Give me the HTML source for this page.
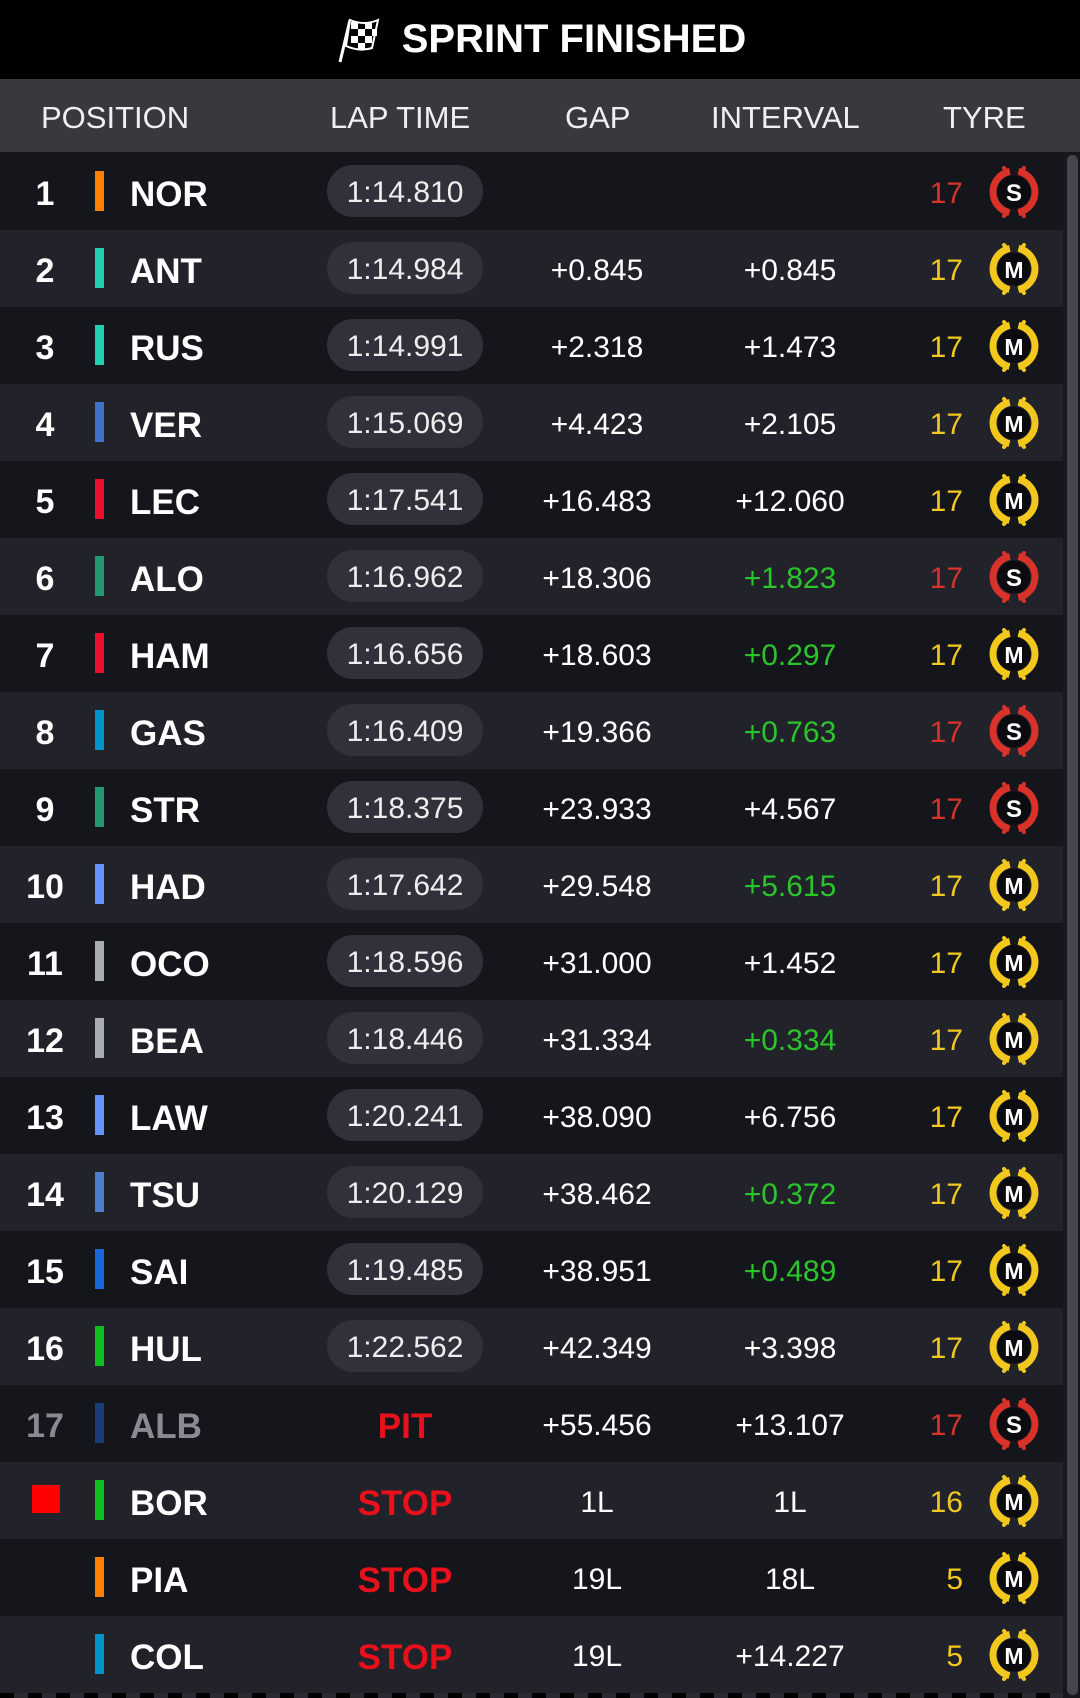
<!DOCTYPE html>
<html><head><meta charset="utf-8"><style>
*{margin:0;padding:0;box-sizing:border-box}
body{width:1080px;height:1698px;background:#17181e;overflow:hidden;font-family:"Liberation Sans",sans-serif;color:#fff;position:relative}
.top{position:absolute;left:0;top:0;width:1080px;height:79px;background:#000;display:flex;align-items:center;justify-content:center}
.top span{font-weight:bold;font-size:40px;margin-left:18px}
.hdr{position:absolute;left:0;top:79px;width:1080px;height:73px;background:#38393f;font-size:31px;color:#f0f0f0}
.hdr div{position:absolute;top:21px}
.row{position:absolute;left:0;width:1063px;height:77px}
.odd{background:#15161c}.even{background:#21222a}
.pos{position:absolute;left:0;width:90px;text-align:center;top:22px;font-weight:bold;font-size:34px}
.bar{position:absolute;left:95px;top:18px;width:9px;height:40px}
.code{position:absolute;left:130px;top:22px;font-weight:bold;font-size:35px}
.pill{position:absolute;left:327px;top:12px;width:156px;height:52px;border-radius:26px;background:#30313a;text-align:center;line-height:56px;font-size:30px;color:#eee}
.st{position:absolute;left:327px;width:156px;text-align:center;top:22px;font-weight:bold;font-size:35px;color:#e8101a}
.gap{position:absolute;left:517px;width:160px;text-align:center;top:24px;font-size:30px}
.int{position:absolute;left:710px;width:160px;text-align:center;top:24px;font-size:30px}
.g{color:#2bc52b}
.lap{position:absolute;right:100px;top:24px;font-size:30px}
.r{color:#d8322a}.y{color:#f2c81e}
svg.t{position:absolute;left:986px;top:11px}
.sb{position:absolute;left:1067px;top:155px;width:11px;height:1540px;background:#45464d;border-radius:5px}
.dash{position:absolute;left:0;top:1693px;width:1063px;height:5px;background:repeating-linear-gradient(90deg,#000 0 14px,#2a2b32 14px 28px)}
</style></head><body>
<div class="top"><svg width="50" height="48" viewBox="0 0 50 48"><path d="M6 46 L16 4" stroke="#fff" stroke-width="3"/><g fill="#fff"><path d="M16 4 Q30 10 44 4 L38 32 Q26 36 12 30 Z" fill="#000" stroke="#fff" stroke-width="2"/><rect x="17" y="6" width="7" height="7"/><rect x="31" y="6" width="7" height="7"/><rect x="24" y="13" width="7" height="7"/><rect x="38" y="13" width="5" height="7"/><rect x="17" y="20" width="7" height="7"/><rect x="31" y="20" width="7" height="7"/><rect x="24" y="27" width="7" height="6"/></g></svg><span>SPRINT FINISHED</span></div>
<div class="hdr"><div style="left:41px">POSITION</div><div style="left:330px">LAP TIME</div><div style="left:565px">GAP</div><div style="left:711px">INTERVAL</div><div style="left:943px">TYRE</div></div>
<div id="rows"></div>
<div class="sb"></div>
<div class="dash"></div>
<script>
const d=[
["1","#ff8000","NOR","1:14.810","","","17","S"],
["2","#1fd1b0","ANT","1:14.984","+0.845","+0.845","17","M"],
["3","#1fd1b0","RUS","1:14.991","+2.318","+1.473","17","M"],
["4","#3e72c8","VER","1:15.069","+4.423","+2.105","17","M"],
["5","#e8102d","LEC","1:17.541","+16.483","+12.060","17","M"],
["6","#229971","ALO","1:16.962","+18.306","g+1.823","17","S"],
["7","#e8102d","HAM","1:16.656","+18.603","g+0.297","17","M"],
["8","#0093cc","GAS","1:16.409","+19.366","g+0.763","17","S"],
["9","#229971","STR","1:18.375","+23.933","+4.567","17","S"],
["10","#6692ff","HAD","1:17.642","+29.548","g+5.615","17","M"],
["11","#a8abb0","OCO","1:18.596","+31.000","+1.452","17","M"],
["12","#a8abb0","BEA","1:18.446","+31.334","g+0.334","17","M"],
["13","#6692ff","LAW","1:20.241","+38.090","+6.756","17","M"],
["14","#4a7fd0","TSU","1:20.129","+38.462","g+0.372","17","M"],
["15","#1868db","SAI","1:19.485","+38.951","g+0.489","17","M"],
["16","#10c020","HUL","1:22.562","+42.349","+3.398","17","M"],
["17","#1a3d7a","ALB","PIT","+55.456","+13.107","17","S"],
["■","#10c020","BOR","STOP","1L","1L","16","M"],
["","#ff8000","PIA","STOP","19L","18L","5","M"],
["","#0093cc","COL","STOP","19L","+14.227","5","M"]];
function tyre(t){const c=t=="S"?"#d8322a":"#f2c81e";return `<svg class="t" width="56" height="56" viewBox="0 0 56 56"><circle cx="28" cy="28" r="21" fill="none" stroke="${c}" stroke-width="7" stroke-dasharray="57 9" stroke-dashoffset="-4.5" transform="rotate(-90 28 28)"/><g stroke="${c}" stroke-width="4" stroke-linecap="round"><path d="M18 4 L22 9 M38 4 L34 9 M18 52 L22 47 M38 52 L34 47"/></g><circle cx="28" cy="28" r="16.5" fill="#0c0c10"/><text x="28" y="37" text-anchor="middle" font-family="Liberation Sans" font-weight="bold" font-size="${t=="S"?24:23}" fill="#fff">${t}</text></svg>`}
let h="";d.forEach((r,i)=>{const top=153+i*77;const lt=r[3].indexOf(":")>0?`<div class="pill">${r[3]}</div>`:`<div class="st">${r[3]}</div>`;
const iv=r[5][0]=="g"?`<span class="g">${r[5].slice(1)}</span>`:r[5];
let pos=r[0]=="■"?`<div style="position:absolute;left:32px;top:23px;width:28px;height:28px;background:#f00"></div>`:`<div class="pos" style="${r[0]=="17"?"color:#8a8b92":""}">${r[0]}</div>`;
h+=`<div class="row ${i%2?"even":"odd"}" style="top:${top}px">${pos}<div class="bar" style="background:${r[1]}"></div><div class="code" style="${r[2]=="ALB"?"color:#8a8b92":""}">${r[2]}</div>${lt}<div class="gap">${r[4]}</div><div class="int">${iv}</div><div class="lap ${r[7]=="S"?"r":"y"}">${r[6]}</div>${tyre(r[7])}</div>`});
document.getElementById("rows").innerHTML=h;
</script>
</body></html>
